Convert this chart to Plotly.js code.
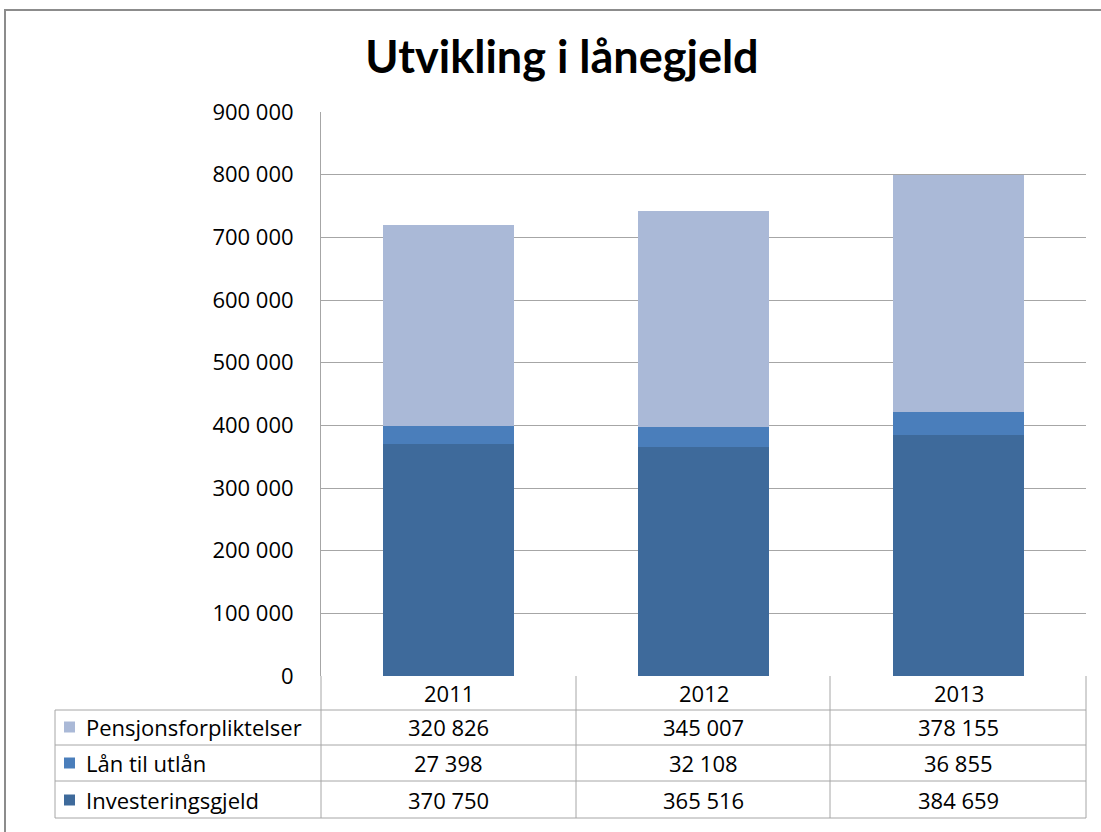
<!DOCTYPE html>
<html>
<head>
<meta charset="utf-8">
<script src="https://cdn.plot.ly/plotly-3.0.1.min.js"></script>
<style>html,body{margin:0;padding:0;background:#fff;}</style>
</head>
<body>
<div id="chart" style="width:1101px;height:832px;"></div>
<script>
const years = ['2011', '2012', '2013'];
const seriesNames = ['Pensjonsforpliktelser', 'Lån til utlån', 'Investeringsgjeld'];
const pensjon = [320826, 345007, 378155];
const laan = [27398, 32108, 36855];
const investering = [370750, 365516, 384659];
const seriesColors = ['#AAB9D7', '#4A7EBB', '#3E6A9B'];
const chartTitle = 'Utvikling i lånegjeld';

const W = 1101, H = 832;
const L = 321, R = 1086, T = 112, B = 676;
const px = x => (x - L) / (R - L);
const py = y => (B - y) / (B - T);
const fmt = v => String(v).replace(/\B(?=(\d{3})+(?!\d))/g, ' ');
const FONT = '"Open Sans", Lato, sans-serif';
const TFONT = 'Lato, "Open Sans", sans-serif';
const FS = 22;

const rowsData = [pensjon, laan, investering];
const traces = [
  {name: seriesNames[2], y: investering, color: seriesColors[2]},
  {name: seriesNames[1], y: laan, color: seriesColors[1]},
  {name: seriesNames[0], y: pensjon, color: seriesColors[0]}
].map(s => ({type: 'bar', x: years, y: s.y, name: s.name, marker: {color: s.color, line: {width: 0}}, hoverinfo: 'skip'}));

const shapes = [];
const annotations = [];
const line = {color: '#A6A6A6', width: 1};
shapes.push({type: 'rect', xref: 'paper', yref: 'paper', x0: px(5), x1: px(1110), y0: py(10), y1: py(840), line: {color: '#8C8C8C', width: 2}});
const rowLines = [710, 745, 781, 818];
rowLines.forEach(y => shapes.push({type: 'line', xref: 'paper', yref: 'paper', x0: px(55), x1: px(R), y0: py(y), y1: py(y), line}));
shapes.push({type: 'line', xref: 'paper', yref: 'paper', x0: px(55), x1: px(55), y0: py(710), y1: py(818), line});
[L, 576, 830, R].forEach(x => shapes.push({type: 'line', xref: 'paper', yref: 'paper', x0: px(x), x1: px(x), y0: py(B), y1: py(818), line}));

years.forEach((yr, i) => annotations.push({x: i, xref: 'x', y: py(693), yref: 'paper', text: yr, showarrow: false, xanchor: 'center', yanchor: 'middle', font: {family: FONT, size: FS, color: '#000'}}));
const rowCenters = [727, 763, 800];
rowsData.forEach((vals, r) => {
  vals.forEach((v, i) => annotations.push({x: i, xref: 'x', y: py(rowCenters[r]), yref: 'paper', text: fmt(v), showarrow: false, xanchor: 'center', yanchor: 'middle', font: {family: FONT, size: FS, color: '#000'}}));
  annotations.push({x: px(84), xref: 'paper', y: py(rowCenters[r]), yref: 'paper', text: seriesNames[r], showarrow: false, xanchor: 'left', yanchor: 'middle', font: {family: FONT, size: FS, color: '#000'}});
  shapes.push({type: 'rect', xref: 'paper', yref: 'paper', x0: px(64), x1: px(75), y0: py(rowCenters[r] - 5.5), y1: py(rowCenters[r] + 5.5), fillcolor: seriesColors[r], line: {width: 0}});
});

const layout = {
  width: W, height: H,
  margin: {l: L, r: W - R, t: T, b: H - B, pad: 0},
  paper_bgcolor: '#fff', plot_bgcolor: '#fff',
  barmode: 'stack', bargap: 0.49,
  showlegend: false,
  separators: ', ',
  title: {text: '<b>' + chartTitle + '</b>', x: 562 / W, xref: 'container', xanchor: 'center', y: 1 - 57 / H, yref: 'container', yanchor: 'middle', font: {family: TFONT, size: 45, color: '#000'}},
  xaxis: {type: 'category', range: [-0.5, 2.5], showticklabels: false, showgrid: false, zeroline: false, showline: false, ticks: ''},
  yaxis: {range: [0, 900000], dtick: 100000, tickformat: ',', showgrid: true, gridcolor: '#A6A6A6', gridwidth: 1, zeroline: false,
    showline: true, linecolor: '#A6A6A6', linewidth: 1, ticks: '', ticklabelstandoff: 22,
    tickfont: {family: FONT, size: FS, color: '#000'}},
  shapes, annotations
};
Plotly.newPlot('chart', traces, layout, {staticPlot: true, displayModeBar: false});
</script>
</body>
</html>
